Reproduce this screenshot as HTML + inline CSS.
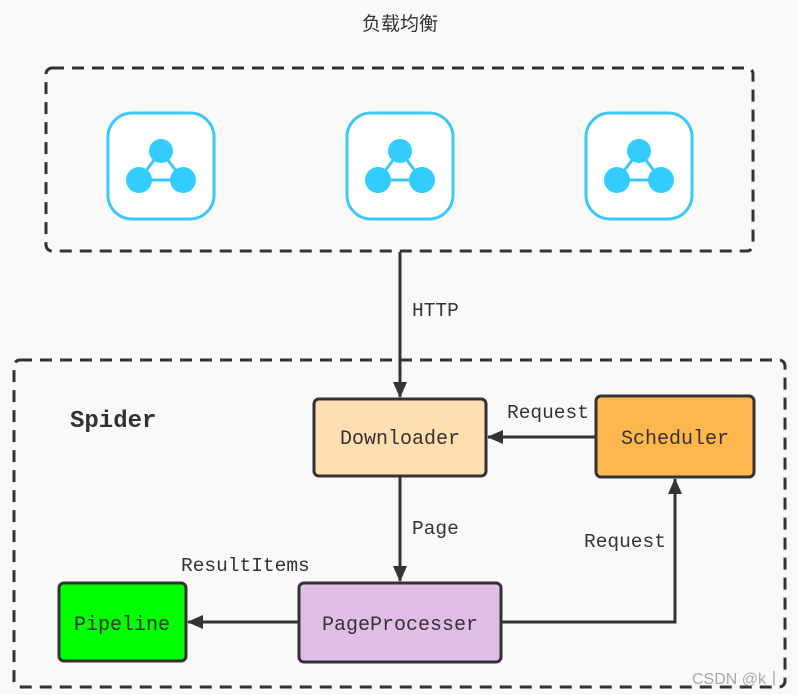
<!DOCTYPE html>
<html><head><meta charset="utf-8"><style>
html,body{margin:0;padding:0;background:#f9f9f9;}
svg{display:block}
text{font-family:"Liberation Mono","Noto Sans CJK SC",monospace;fill:#333;}
</style></head><body>
<svg width="798" height="695" viewBox="0 0 798 695" xmlns="http://www.w3.org/2000/svg">
<defs>
<marker id="b" markerWidth="16" markerHeight="16" refX="15" refY="8" orient="auto" markerUnits="userSpaceOnUse" viewBox="0 0 16 16">
<path d="M0,1 L16,8 L0,15 z" fill="#333"/></marker>
<g id="ic">
<rect x="-53" y="-53" width="106" height="106" rx="24" fill="#fff" stroke="#3cc8f8" stroke-width="3"/>
<path d="M0,-15 L-22,14 L22,14 Z" fill="none" stroke="#3cc8f8" stroke-width="3"/>
<circle cx="0" cy="-15" r="12" fill="#33ccff"/>
<circle cx="-22" cy="14" r="13" fill="#33ccff"/>
<circle cx="22" cy="14" r="13" fill="#33ccff"/>
</g>
</defs>
<text x="400" y="30" font-size="19" text-anchor="middle" style="font-family:'Noto Sans CJK SC',sans-serif">负载均衡</text>
<rect x="46" y="68" width="707" height="183" rx="6" fill="none" stroke="#333" stroke-width="3" stroke-dasharray="12,8"/>
<use href="#ic" x="161" y="166"/>
<use href="#ic" x="400" y="166"/>
<use href="#ic" x="639" y="166"/>
<rect x="14" y="360" width="771" height="327" rx="6" fill="none" stroke="#333" stroke-width="3" stroke-dasharray="12,8"/>
<text x="70" y="427" font-size="24" font-weight="bold">Spider</text>

<line x1="400" y1="252" x2="400" y2="397" stroke="#333" stroke-width="3" marker-end="url(#b)"/>
<text x="412" y="316" font-size="19.5">HTTP</text>
<line x1="596" y1="437" x2="488" y2="437" stroke="#333" stroke-width="3" marker-end="url(#b)"/>
<text x="507" y="418" font-size="19.5">Request</text>
<line x1="400" y1="477" x2="400" y2="581" stroke="#333" stroke-width="3" marker-end="url(#b)"/>
<text x="412" y="534" font-size="19.5">Page</text>
<line x1="299" y1="622" x2="188" y2="622" stroke="#333" stroke-width="3" marker-end="url(#b)"/>
<text x="181" y="571" font-size="19.5">ResultItems</text>
<polyline points="501,622 675,622 675,479" fill="none" stroke="#333" stroke-width="3" marker-end="url(#b)"/>
<text x="584" y="547" font-size="19.5">Request</text>

<rect x="314" y="399" width="172" height="77" rx="5" fill="#ffdfb0" stroke="#333" stroke-width="3"/>
<text x="400" y="444" font-size="20" text-anchor="middle">Downloader</text>
<rect x="596" y="396" width="158" height="81" rx="5" fill="#ffb74d" stroke="#333" stroke-width="3"/>
<text x="675" y="444" font-size="20" text-anchor="middle">Scheduler</text>
<rect x="299" y="583" width="202" height="79" rx="5" fill="#e1bee7" stroke="#333" stroke-width="3"/>
<text x="400" y="630" font-size="20" text-anchor="middle">PageProcesser</text>
<rect x="59" y="583" width="127" height="78" rx="5" fill="#00ff00" stroke="#333" stroke-width="3"/>
<text x="122" y="630" font-size="20" text-anchor="middle">Pipeline</text>
<text x="782" y="684" font-size="16" text-anchor="end" style="font-family:'Liberation Sans',sans-serif;fill:#aaa">CSDN @k丨</text>
</svg>
</body></html>
